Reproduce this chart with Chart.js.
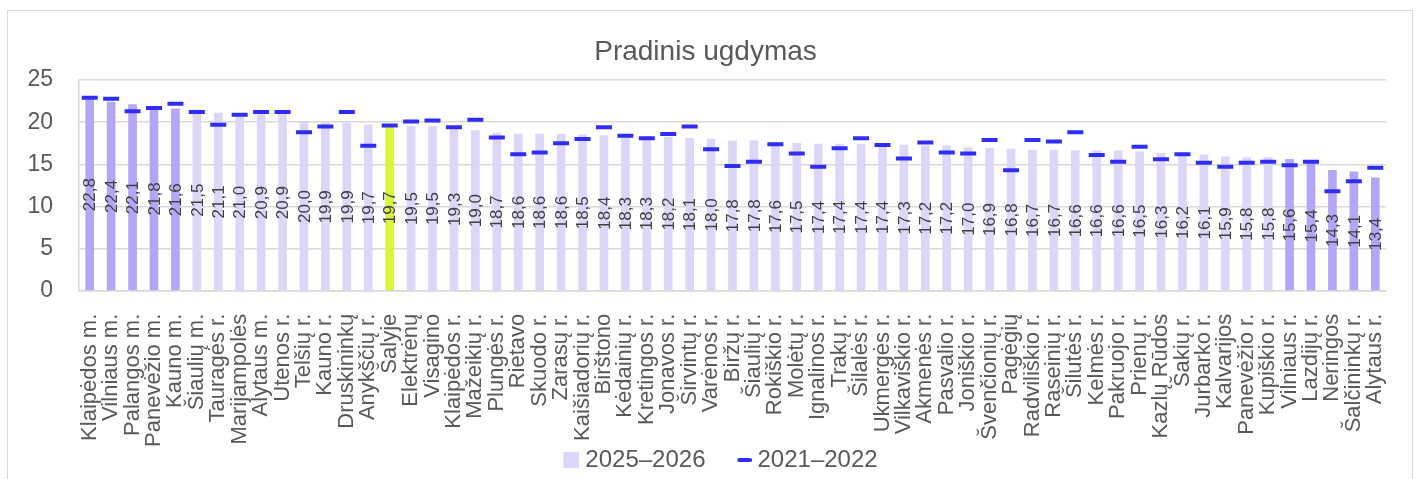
<!DOCTYPE html>
<html>
<head>
<meta charset="utf-8">
<script src="https://cdn.jsdelivr.net/npm/chart.js@4/dist/chart.umd.min.js"></script>
<style>
  html, body { margin: 0; padding: 0; background: #ffffff; }
  #wrap { position: relative; width: 1419px; height: 479px; overflow: hidden; }
  #frame { position: absolute; left: 7px; top: 10px; width: 1406px; height: 490px; border: 1px solid #d9d9d9; box-sizing: border-box; }
  #c { position: absolute; left: 0; top: 0; }
</style>
</head>
<body>
<div id="wrap">
  <div id="frame"></div>
  <canvas id="c" width="1419" height="479"></canvas>
</div>
<script>
const title = 'Pradinis ugdymas';
const seriesNames = ['2025–2026', '2021–2022'];
const categories = [
  'Klaipėdos m.', 'Vilniaus m.', 'Palangos m.', 'Panevėžio m.', 'Kauno m.',
  'Šiaulių m.', 'Tauragės r.', 'Marijampolės', 'Alytaus m.', 'Utenos r.',
  'Telšių r.', 'Kauno r.', 'Druskininkų', 'Anykščių r.', 'Šalyje',
  'Elektrėnų', 'Visagino', 'Klaipėdos r.', 'Mažeikių r.', 'Plungės r.',
  'Rietavo', 'Skuodo r.', 'Zarasų r.', 'Kaišiadorių r.', 'Birštono',
  'Kėdainių r.', 'Kretingos r.', 'Jonavos r.', 'Širvintų r.', 'Varėnos r.',
  'Biržų r.', 'Šiaulių r.', 'Rokiškio r.', 'Molėtų r.', 'Ignalinos r.',
  'Trakų r.', 'Šilalės r.', 'Ukmergės r.', 'Vilkaviškio r.', 'Akmenės r.',
  'Pasvalio r.', 'Joniškio r.', 'Švenčionių r.', 'Pagėgių', 'Radviliškio r.',
  'Raseinių r.', 'Šilutės r.', 'Kelmės r.', 'Pakruojo r.', 'Prienų r.',
  'Kazlų Rūdos', 'Šakių r.', 'Jurbarko r.', 'Kalvarijos', 'Panevėžio r.',
  'Kupiškio r.', 'Vilniaus r.', 'Lazdijų r.', 'Neringos', 'Šalčininkų r.',
  'Alytaus r.'
];
const values2025 = [
  22.8, 22.4, 22.1, 21.8, 21.6,
  21.5, 21.1, 21.0, 20.9, 20.9,
  20.0, 19.9, 19.9, 19.7, 19.7,
  19.5, 19.5, 19.3, 19.0, 18.7,
  18.6, 18.6, 18.6, 18.5, 18.4,
  18.3, 18.3, 18.2, 18.1, 18.0,
  17.8, 17.8, 17.6, 17.5, 17.4,
  17.4, 17.4, 17.4, 17.3, 17.2,
  17.2, 17.0, 16.9, 16.8, 16.7,
  16.7, 16.6, 16.6, 16.6, 16.5,
  16.3, 16.2, 16.1, 15.9, 15.8,
  15.8, 15.6, 15.4, 14.3, 14.1,
  13.4
];
const values2021 = [
  22.9, 22.8, 21.3, 21.7, 22.2,
  21.2, 19.7, 20.9, 21.2, 21.2,
  18.8, 19.5, 21.2, 17.2, 19.6,
  20.1, 20.2, 19.4, 20.3, 18.2,
  16.2, 16.4, 17.5, 18.0, 19.4,
  18.4, 18.1, 18.6, 19.5, 16.8,
  14.8, 15.3, 17.4, 16.3, 14.7,
  16.9, 18.1, 17.3, 15.7, 17.6,
  16.4, 16.3, 17.9, 14.3, 17.9,
  17.7, 18.8, 16.1, 15.3, 17.1,
  15.6, 16.2, 15.2, 14.7, 15.2,
  15.3, 14.9, 15.3, 11.8, 13.0,
  14.6
];
const yTicks = [0, 5, 10, 15, 20, 25];
const nationalLabel = 'Šalyje';

const FONT = '"Liberation Sans", Arial, sans-serif';
const TEXT = '#595959';
const LIGHT = '#dcd6fb';
const DARK = '#b2a7f7';
const LIME = '#d5f53f';
const BLUE = '#2e2ef8';
const GRID = '#d9d9d9';

const n = categories.length;
const barColors = categories.map((c, i) =>
  c === nationalLabel ? LIME : (i < 5 || i >= n - 5 ? DARK : LIGHT));

// legend icon: transparent lead-in on the left, swatch flush right
function legendIcon(totalW, swW, swH, color, r) {
  const h = 16;
  const cv = document.createElement('canvas');
  cv.width = totalW; cv.height = h;
  const x = cv.getContext('2d');
  x.fillStyle = color;
  x.beginPath();
  const x0 = totalW - swW, y0 = (h - swH) / 2;
  if (r) { x.roundRect(x0, y0, swW, swH, r); } else { x.rect(x0, y0, swW, swH); }
  x.fill();
  return cv;
}
const sqIcon = legendIcon(52, 16, 16, LIGHT, 0);
const dashIcon = legendIcon(52, 14, 4, BLUE, 1.5);

const barLabels = {
  id: 'barLabels',
  afterDatasetsDraw(chart) {
    const ctx = chart.ctx;
    const meta = chart.getDatasetMeta(0);
    const ys = chart.scales.y;
    const data = chart.data.datasets[0].data;
    ctx.save();
    ctx.font = '17px ' + FONT;
    ctx.fillStyle = '#404040';
    ctx.textAlign = 'center';
    ctx.textBaseline = 'middle';
    meta.data.forEach((el, i) => {
      const v = data[i];
      const ym = (ys.getPixelForValue(v) + ys.getPixelForValue(0)) / 2;
      ctx.save();
      ctx.translate(el.x + 1, ym);
      ctx.rotate(-Math.PI / 2);
      ctx.fillText(v.toFixed(1).replace('.', ','), 0, 0);
      ctx.restore();
    });
    ctx.restore();
  }
};

const ctx = document.getElementById('c').getContext('2d');
new Chart(ctx, {
  type: 'bar',
  data: {
    labels: categories,
    datasets: [
      {
        type: 'bar',
        label: seriesNames[0],
        data: values2025,
        backgroundColor: barColors,
        barThickness: 8,
        order: 2
      },
      {
        type: 'line',
        label: seriesNames[1],
        data: values2021,
        showLine: false,
        pointStyle: 'line',
        pointRadius: 8,
        pointHoverRadius: 8,
        pointBorderWidth: 4,
        borderColor: BLUE,
        backgroundColor: BLUE,
        order: 1
      }
    ]
  },
  options: {
    responsive: false,
    animation: false,
    layout: { padding: { left: 25, right: 33, top: 31, bottom: -3 } },
    plugins: {
      title: {
        display: true,
        text: title,
        color: TEXT,
        font: { family: FONT, size: 28, weight: 'normal' },
        padding: { top: 4, bottom: 11.5 }
      },
      legend: {
        position: 'bottom',
        labels: {
          color: TEXT,
          font: { family: FONT, size: 24 },
          usePointStyle: true,
          pointStyleWidth: 40,
          boxWidth: 40,
          boxHeight: 16,
          padding: 0,
          sort: (a, b) => a.datasetIndex - b.datasetIndex,
          generateLabels(chart) {
            const items = Chart.defaults.plugins.legend.labels.generateLabels(chart);
            items.forEach((it) => {
              it.pointStyle = it.datasetIndex === 0 ? sqIcon : dashIcon;
            });
            return items;
          }
        }
      },
      tooltip: { enabled: false }
    },
    scales: {
      x: {
        offset: true,
        grid: { display: false, drawTicks: false },
        border: { display: true, color: GRID, width: 1.5 },
        afterFit(scale) {
          scale.paddingLeft = 0;
          scale.paddingRight = 0;
          // padding is counted on both sides of the labels; keep it only above them
          scale.height -= scale.options.ticks.padding - 1;
        },
        ticks: {
          autoSkip: false,
          minRotation: 90,
          maxRotation: 90,
          padding: 23,
          color: TEXT,
          font: { family: FONT, size: 22 }
        }
      },
      y: {
        min: 0,
        max: 25,
        afterFit(scale) { scale.width = 54; },
        afterBuildTicks(scale) { scale.ticks = yTicks.map(v => ({ value: v })); },
        grid: { color: GRID, lineWidth: 1.5, drawTicks: false },
        border: { display: true, color: GRID, width: 1.5 },
        ticks: {
          padding: 26,
          color: TEXT,
          font: { family: FONT, size: 23 }
        }
      }
    }
  },
  plugins: [barLabels]
});
</script>
</body>
</html>
